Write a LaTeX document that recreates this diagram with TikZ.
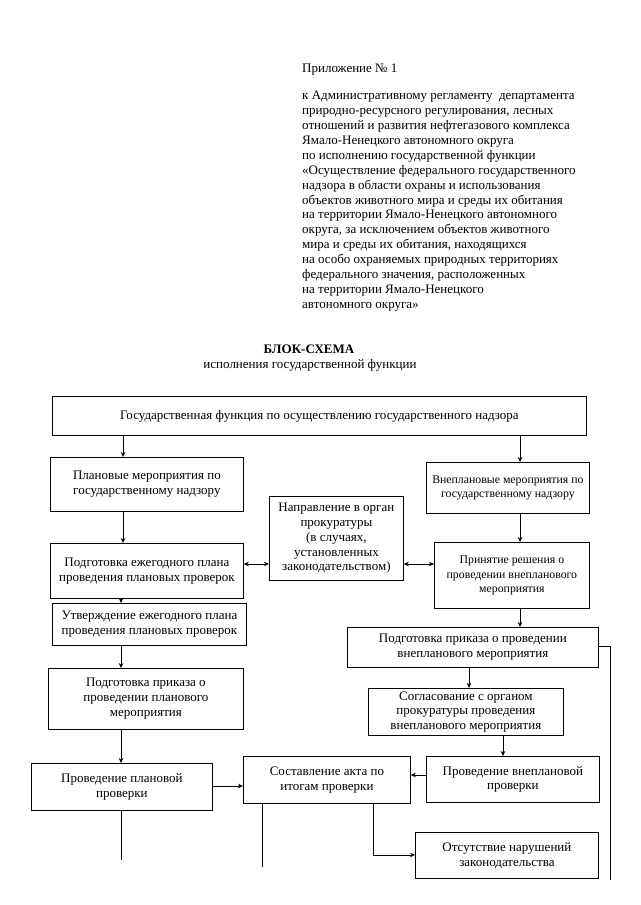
\documentclass[tikz,border=0pt]{standalone}
\usepackage{fontspec}
\setmainfont{Liberation Serif}
\usetikzlibrary{arrows.meta,calc}
\begin{document}
\begin{tikzpicture}[x=1pt,y=-1pt,
  txt/.style={font=\fontsize{13}{14.9}\selectfont, inner sep=0pt},
  box/.style={draw, line width=0.8pt, align=center, font=\fontsize{13}{14.8}\selectfont, inner sep=0pt},
  small/.style={font=\fontsize{11.8}{14.5}\selectfont},
  arr/.style={line width=0.8pt, -{Stealth[length=5pt,width=4.5pt]}},
  darr/.style={line width=0.8pt, {Stealth[length=5pt,width=4.5pt]}-{Stealth[length=5pt,width=4.5pt]}},
  ln/.style={line width=0.8pt}]
\useasboundingbox (0,0) rectangle (640,905);
\fill[white] (0,0) rectangle (640,905);
\newcommand{\mybox}[7][]{\node[box, minimum width={#5-#3}, minimum height={#6-#4}, anchor=north west] (#2) at (#3,#4) {}; \node[box, draw=none, align=center, #1] at (#2.center) {#7};}
\node[txt, anchor=base west] (app) at (302,72) {Приложение № 1};
\node[txt, anchor=north west, align=left] (hdr) at (302,91) {к Административному регламенту\ \ департамента\\
природно-ресурсного регулирования, лесных\\
отношений и развития нефтегазового комплекса\\
Ямало-Ненецкого автономного округа\\
по исполнению государственной функции\\
«Осуществление федерального государственного\\
надзора в области охраны и использования\\
объектов животного мира и среды их обитания\\
на территории Ямало-Ненецкого автономного\\
округа, за исключением объектов животного\\
мира и среды их обитания, находящихся\\
на особо охраняемых природных территориях\\
федерального значения, расположенных\\
на территории Ямало-Ненецкого\\
автономного округа»};
\node[txt, font=\fontsize{13}{14}\selectfont\bfseries] (title) at (309,349) {БЛОК-СХЕМА};
\node[txt] (sub) at (310,365) {исполнения государственной функции};

\mybox{top}{52}{396}{586}{435}{Государственная функция по осуществлению государственного надзора}
\mybox{p1}{50}{457}{243}{511}{Плановые мероприятия по\\государственному надзору}
\mybox{p2}{50}{543}{243}{598}{Подготовка ежегодного плана\\проведения плановых проверок}
\mybox{p3}{52}{603}{246}{645}{Утверждение ежегодного плана\\проведения плановых проверок}
\mybox{p4}{48}{668}{243}{729}{Подготовка приказа о\\проведении планового\\мероприятия}
\mybox{p5}{31}{763}{212}{810}{Проведение плановой\\проверки}
\mybox{napr}{269}{496}{403}{580}{Направление в орган\\прокуратуры\\(в случаях,\\установленных\\законодательством)}
\mybox[small]{v1}{426}{462}{589}{513}{Внеплановые мероприятия по\\государственному надзору}
\mybox[small]{v2}{434}{542}{589}{608}{Принятие решения о\\проведении внепланового\\мероприятия}
\mybox{v3}{347}{627}{598}{667}{Подготовка приказа о проведении\\внепланового мероприятия}
\mybox{sogl}{368}{688}{563}{735}{Согласование с органом\\прокуратуры проведения\\внепланового мероприятия}
\mybox{v4}{426}{756}{599}{802}{Проведение внеплановой\\проверки}
\mybox{akt}{243}{756}{410}{803}{Составление акта по\\итогам проверки}
\mybox{ots}{415}{832}{598}{878}{Отсутствие нарушений\\законодательства}

\coordinate (xa) at (123,0);
\coordinate (xb) at (520,0);
\coordinate (xc) at (121,0);
\coordinate (xd) at (469,0);
\coordinate (xe) at (503,0);
\coordinate (xf) at (262,0);
\coordinate (xg) at (373,0);
\coordinate (ya) at (0,564);
\coordinate (yb) at (0,786);
\coordinate (yc) at (0,775);
\coordinate (yd) at (0,646);
\coordinate (e1) at (121,860);
\coordinate (e2) at (262,867);
\coordinate (k1) at (373,855);
\coordinate (k2) at (610,646);
\coordinate (e3) at (610,880);

\draw[arr] (top.south -| xa) -- (p1.north -| xa);
\draw[arr] (top.south -| xb) -- (v1.north -| xb);
\draw[arr] (p1.south -| xa) -- (p2.north -| xa);
\draw[arr] (p2.south -| xc) -- (p3.north -| xc);
\draw[arr] (p3.south -| xc) -- (p4.north -| xc);
\draw[arr] (p4.south -| xc) -- (p5.north -| xc);
\draw[ln] (p5.south -| xc) -- (e1);
\draw[arr] (p5.east |- yb) -- (akt.west |- yb);
\draw[darr] (p2.east |- ya) -- (napr.west |- ya);
\draw[darr] (napr.east |- ya) -- (v2.west |- ya);
\draw[arr] (v1.south -| xb) -- (v2.north -| xb);
\draw[arr] (v2.south -| xb) -- (v3.north -| xb);
\draw[ln] (v3.east |- yd) -- (k2) -- (e3);
\draw[arr] (v3.south -| xd) -- (sogl.north -| xd);
\draw[arr] (sogl.south -| xe) -- (v4.north -| xe);
\draw[arr] (v4.west |- yc) -- (akt.east |- yc);
\draw[ln] (akt.south -| xf) -- (e2);
\draw[arr] (akt.south -| xg) -- (k1) -- (ots.west |- k1);
\end{tikzpicture}
\end{document}
